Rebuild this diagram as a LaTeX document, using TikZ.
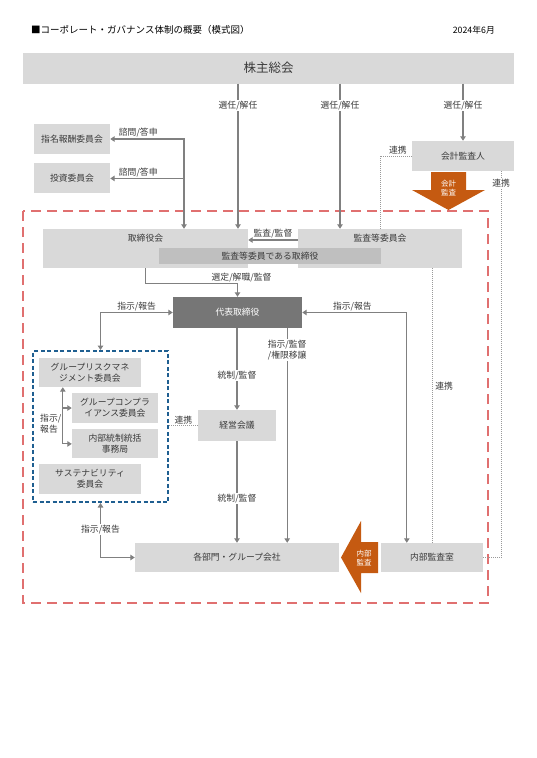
\documentclass[tikz,border=0pt]{standalone}
\usepackage{fontspec}
\setmainfont{Noto Sans CJK JP}
\usetikzlibrary{positioning,arrows.meta}

\definecolor{boxgray}{RGB}{217,217,217}
\definecolor{bargray}{RGB}{191,191,191}
\definecolor{ceogray}{RGB}{118,118,118}
\definecolor{linegray}{RGB}{128,128,128}
\definecolor{txtgray}{RGB}{58,58,58}
\definecolor{auditorange}{RGB}{197,90,17}
\definecolor{framered}{RGB}{224,112,112}
\definecolor{groupblue}{RGB}{31,95,145}
\newcommand{\lblsize}{\fontsize{8.8pt}{11pt}\selectfont}
\newcommand{\arrsize}{\fontsize{7.5pt}{9.5pt}\selectfont}

\tikzset{
  box/.style={fill=boxgray, text=txtgray, font=\lblsize, align=center, inner sep=1pt, minimum height=30pt},
  lbl/.style={font=\lblsize, text=txtgray, inner sep=1pt, align=center},
  onl/.style={lbl, fill=white},
  conn/.style={draw=linegray, line width=1.1pt},
  dots/.style={draw=linegray!80, line width=0.8pt, dash pattern=on 1pt off 1pt},
}

\begin{document}
\begin{tikzpicture}[x=1pt, y=-1pt, >={Triangle[width=5.5pt,length=4.5pt]}]
  \useasboundingbox (0,0) rectangle (536,758);

  \node (ttl) [lbl, anchor=west, text=black, font=\fontsize{9.5pt}{11pt}\selectfont] at (30,30) {■コーポレート・ガバナンス体制の概要（模式図）};
  \node (date) [lbl, anchor=east, text=black] at (496,30) {2024年6月};

  \node (gms) [box, minimum width=491pt, minimum height=31pt, font=\fontsize{12.5pt}{14pt}\selectfont] at (268.5,68) {株主総会};
  \node (nrc) [box, minimum width=76pt] at (72,139) {指名報酬委員会};
  \node (inv) [box, minimum width=76pt, below=9pt of nrc] {投資委員会};
  \node (auditor) [box, minimum width=102pt] at (463,156) {会計監査人};

  \draw [framered, line width=2.4pt, dash pattern=on 10pt off 6pt] (23,211) rectangle (488,603);

  \node (board) [box, minimum width=205pt, minimum height=39pt, label={[lbl, anchor=north, inner sep=5pt]north:取締役会}] at (145.5,248.5) {};
  \node (acm) [box, minimum width=164pt, minimum height=39pt, label={[lbl, anchor=north, inner sep=5pt]north:監査等委員会}] at (380,248.5) {};
  \node (acd) [box, fill=bargray, minimum width=222pt, minimum height=16pt] at (270,256) {監査等委員である取締役};
  \node (ceo) [box, fill=ceogray, text=white, minimum width=129pt, minimum height=31pt] at (237.5,312.5) {代表取締役};

  \node (grp) [draw=groupblue, line width=2pt, dash pattern=on 4pt off 2.5pt, minimum width=135pt, minimum height=151pt, inner sep=0pt] at (100.5,426.5) {};
  \node (risk) [box, minimum width=102pt, minimum height=29pt] at (90,372.5) {グループリスクマネ\\ジメント委員会};
  \node (comp) [box, minimum width=86pt] at (115,408) {グループコンプラ\\イアンス委員会};
  \node (icon) [box, minimum width=86pt, minimum height=29pt, below=6pt of comp] {内部統制統括\\事務局};
  \node (sus) [box, minimum width=102pt] at (90,479) {サステナビリティ\\委員会};

  \node (mgmt) [box, minimum width=78pt, minimum height=31pt] at (237,425.5) {経営会議};
  \node (dept) [box, minimum width=204pt, minimum height=29pt] at (237,557.5) {各部門・グループ会社};
  \node (iad) [box, minimum width=102pt, minimum height=29pt] at (432,557.5) {内部監査室};

  \fill [auditorange] (431,172) -- (466,172) -- (466,190) -- (485,190) -- (448.5,210) -- (412,190) -- (431,190) -- cycle;
  \node (ext) [lbl, text=white, font=\arrsize] at (448.5,188) {会計\\監査};
  \fill [auditorange] (378,542) -- (378,573) -- (361,573) -- (361,593) -- (341,557.5) -- (361,521) -- (361,542) -- cycle;
  \node (int) [lbl, text=white, font=\arrsize] at (364,558) {内部\\監査};

  \coordinate (b1) at ([xshift=38.5pt]board.north);
  \coordinate (b2) at ([xshift=92.5pt]board.north);
  \coordinate (a1) at ([xshift=-40pt]acm.north);
  \coordinate (a2) at ([xshift=-13pt]auditor.south east);
  \coordinate (i1) at ([xshift=26pt]iad.north west);
  \coordinate (c1) at ([xshift=-15pt]ceo.south east);
  \coordinate (r1) at ([xshift=24pt]risk.south west);

  \draw [->, conn] (gms.south -| b2) to node [onl, pos=0.15] {選任/解任} (b2);
  \draw [->, conn] (gms.south -| a1) to node [onl, pos=0.15] {選任/解任} (a1);
  \draw [->, conn] (gms.south -| auditor.north) to node [onl, pos=0.38] {選任/解任} (auditor.north);

  \draw [<->, conn] (nrc.east) -| node [lbl, above, pos=0.19] {諮問/答申} (b1);
  \draw [->, conn] (inv.east -| b1) to node [lbl, above, pos=0.62] {諮問/答申} (inv.east);
  \draw [->, conn] ([yshift=8.5pt]acm.west) to node [lbl, above] {監査/監督} ([yshift=8.5pt]board.east);

  \draw [dots] (auditor.west) -| node [lbl, above, pos=0.22] {連携} (acm.north);
  \draw [dots] (a2) |- node [onl, pos=0.016] {連携} (iad.east);
  \draw [dots] (acm.south -| iad.north) to node [lbl, right, pos=0.43, xshift=2pt] {連携} (iad.north);

  \draw [->, conn] (board.south) -- ++(0,15) -| node [lbl, above, pos=0.5, xshift=4pt] {選定/解職/監督} (ceo.north);
  \draw [<->, conn] (ceo.west) -| node [lbl, above, pos=0.25] {指示/報告} (grp.north);
  \draw [<->, conn] (ceo.east) -| node [lbl, above, pos=0.24] {指示/報告} (i1);
  \draw [->, conn] (ceo.south -| mgmt.north) to node [onl, pos=0.585] {統制/監督} (mgmt.north);
  \draw [->, conn] (c1) to node [onl, pos=0.1] {指示/監督\\/権限移譲} (c1 |- dept.north);
  \draw [->, conn] (mgmt.south) to node [onl, pos=0.56] {統制/監督} (mgmt.south |- dept.north);
  \draw [<->, conn] (grp.south) |- node [onl, pos=0.245] {指示/報告} (dept.west);
  \draw [dots] (grp.east |- mgmt.west) to node [lbl, above] {連携} (mgmt.west);

  \draw [<->, conn] (r1) |- node [lbl, left, pos=0.32, align=left] {指示/\\報告} (icon.west);
  \draw [->, conn] (comp.west -| r1) to (comp.west);
\end{tikzpicture}
\end{document}
